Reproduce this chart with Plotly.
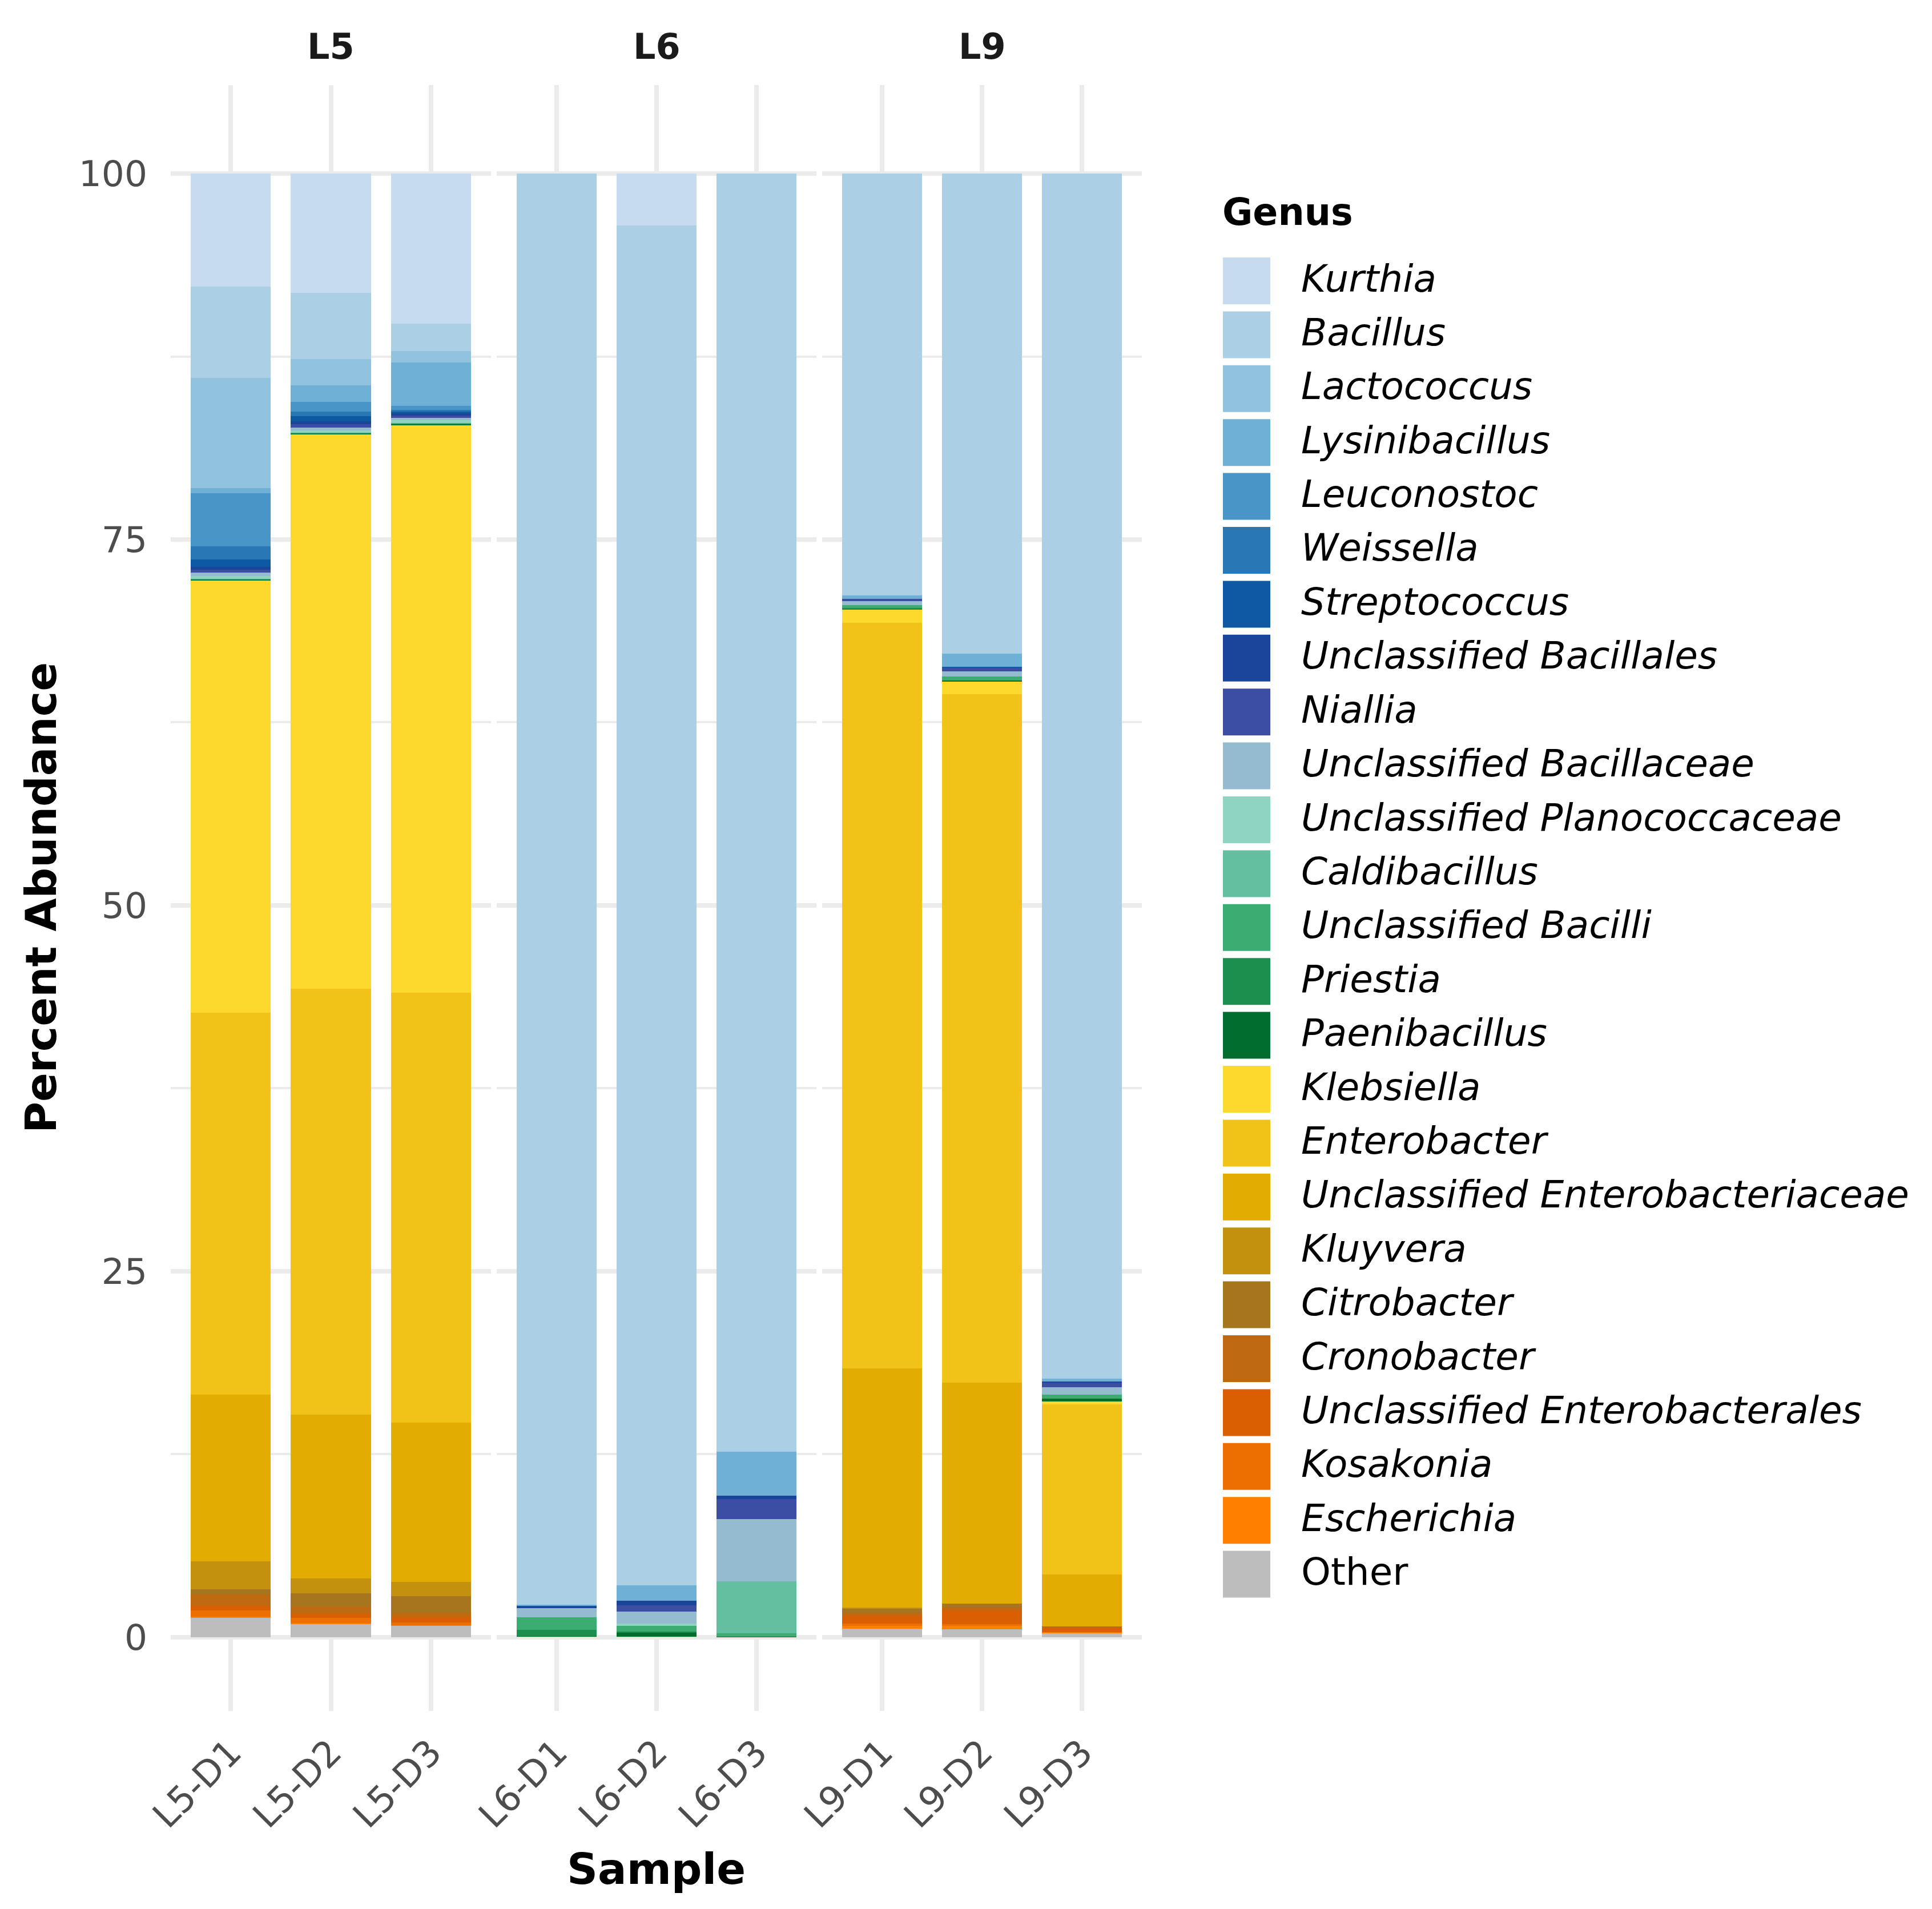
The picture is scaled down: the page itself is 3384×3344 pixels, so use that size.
import plotly.graph_objects as go

# the page body keeps its default 8px margin, so the figure is sized to fit
# inside the 3384x3344 window without scrollbars; positions below are window px
PAGE_OFFSET = 8
W, H = 3384 - 2 * PAGE_OFFSET - 8, 3344 - 2 * PAGE_OFFSET - 8

GENERA = [
    "Kurthia", "Bacillus", "Lactococcus", "Lysinibacillus", "Leuconostoc",
    "Weissella", "Streptococcus", "Unclassified Bacillales", "Niallia",
    "Unclassified Bacillaceae", "Unclassified Planococcaceae", "Caldibacillus",
    "Unclassified Bacilli", "Priestia", "Paenibacillus", "Klebsiella",
    "Enterobacter", "Unclassified Enterobacteriaceae", "Kluyvera", "Citrobacter",
    "Cronobacter", "Unclassified Enterobacterales", "Kosakonia", "Escherichia",
    "Other",
]

COLORS = [
    "#c6dbef", "#abd0e6", "#91c3de", "#6fb0d7", "#4a95c7",
    "#2a77b6", "#0f59a3", "#1a4599", "#3b4ea3",
    "#95bbd0", "#8fd3c3", "#63bfa0",
    "#3cac73", "#1c8e4e", "#016e30", "#fdd92e",
    "#f1c318", "#e2ac00", "#c4910f", "#a5761e",
    "#bf6911", "#d95f02", "#ec6f00", "#ff7f00",
    "#bdbdbd",
]

GROUPS = ["L5", "L6", "L9"]
SAMPLES = {
    "L5": ["L5-D1", "L5-D2", "L5-D3"],
    "L6": ["L6-D1", "L6-D2", "L6-D3"],
    "L9": ["L9-D1", "L9-D2", "L9-D3"],
}

# percent abundance per sample, in GENERA order (top of stack first)
L5_D1 = [7.72, 6.25, 7.53, 0.34, 3.64, 0.88, 0.52, 0.19, 0.19, 0.25, 0.17, 0.00, 0.04,
         0.04, 0.02, 29.55, 26.09, 11.40, 1.91, 0.36, 0.79, 0.29, 0.46, 0.04, 1.33]
L5_D2 = [8.15, 4.54, 1.78, 1.13, 0.67, 0.31, 0.36, 0.17, 0.25, 0.19, 0.15, 0.00, 0.04,
         0.03, 0.03, 37.91, 29.10, 11.20, 1.02, 0.90, 0.47, 0.31, 0.34, 0.04, 0.91]
L5_D3 = [10.26, 1.88, 0.75, 2.97, 0.27, 0.13, 0.12, 0.15, 0.17, 0.15, 0.19, 0.00, 0.05,
         0.03, 0.05, 38.79, 29.40, 10.87, 0.98, 1.13, 0.31, 0.35, 0.18, 0.05, 0.77]
L6_D1 = [0.00, 97.78, 0.00, 0.08, 0.00, 0.00, 0.02, 0.14, 0.00, 0.63, 0.00, 0.00, 0.86,
         0.43, 0.02, 0.04, 0.00, 0.00, 0.00, 0.00, 0.00, 0.00, 0.00, 0.00, 0.00]
L6_D2 = [3.55, 92.93, 0.00, 1.03, 0.00, 0.00, 0.00, 0.31, 0.43, 0.82, 0.16, 0.00, 0.39,
         0.08, 0.26, 0.04, 0.00, 0.00, 0.00, 0.00, 0.00, 0.00, 0.00, 0.00, 0.00]
L6_D3 = [0.00, 87.35, 0.00, 2.98, 0.00, 0.00, 0.00, 0.23, 1.37, 4.26, 0.00, 3.55, 0.22,
         0.00, 0.04, 0.00, 0.00, 0.00, 0.00, 0.00, 0.00, 0.00, 0.00, 0.00, 0.00]
L9_D1 = [0.00, 28.84, 0.00, 0.20, 0.00, 0.00, 0.00, 0.00, 0.19, 0.27, 0.00, 0.00, 0.19,
         0.12, 0.00, 0.90, 50.94, 16.32, 0.07, 0.30, 0.18, 0.55, 0.16, 0.22, 0.55]
L9_D2 = [0.00, 32.82, 0.00, 0.90, 0.00, 0.00, 0.03, 0.00, 0.27, 0.35, 0.00, 0.00, 0.27,
         0.00, 0.08, 0.86, 47.05, 15.08, 0.00, 0.25, 0.22, 0.95, 0.12, 0.24, 0.51]
L9_D3 = [0.00, 82.34, 0.00, 0.21, 0.00, 0.00, 0.00, 0.04, 0.36, 0.49, 0.00, 0.00, 0.27,
         0.00, 0.18, 0.22, 11.60, 3.58, 0.00, 0.00, 0.09, 0.27, 0.00, 0.07, 0.28]

ABUNDANCE = {
    "L5-D1": L5_D1, "L5-D2": L5_D2, "L5-D3": L5_D3,
    "L6-D1": L6_D1, "L6-D2": L6_D2, "L6-D3": L6_D3,
    "L9-D1": L9_D1, "L9-D2": L9_D2, "L9-D3": L9_D3,
}

Y_TICKS = [0, 25, 50, 75, 100]

FONT = "DejaVu Sans"
TICK_GRAY = "#4d4d4d"
GRID = "#ebebeb"


def px_x(v):
    return (v - PAGE_OFFSET) / W


def px_y(v):
    return 1 - (v - PAGE_OFFSET) / H


# panel geometry in window pixels
PANELS_X = [(299, 860), (870, 1430), (1440, 2000)]
PANEL_TOP, PANEL_BOTTOM = 149, 2997
Y_RANGE = [-5.05, 106.05]

fig = go.Figure()

for p, group in enumerate(GROUPS):
    suffix = "" if p == 0 else str(p + 1)
    samples = SAMPLES[group]
    # bottom of stack first
    for gi in reversed(range(len(GENERA))):
        fig.add_trace(
            go.Bar(
                x=samples,
                y=[ABUNDANCE[s][gi] for s in samples],
                name=GENERA[gi],
                marker={"color": COLORS[gi], "line": {"width": 0}},
                showlegend=False,
                xaxis="x" + suffix,
                yaxis="y" + suffix,
            )
        )

layout = {
    "width": W,
    "height": H,
    "autosize": False,
    "margin": {"l": 0, "r": 0, "t": 0, "b": 0, "pad": 0},
    "paper_bgcolor": "white",
    "plot_bgcolor": "white",
    "barmode": "stack",
    "bargap": 0.2,
    "font": {"family": FONT, "size": 63, "color": TICK_GRAY},
    "showlegend": False,
}

for p, group in enumerate(GROUPS):
    suffix = "" if p == 0 else str(p + 1)
    x0, x1 = PANELS_X[p]
    layout["xaxis" + suffix] = {
        "domain": [px_x(x0), px_x(x1)],
        "anchor": "y" + suffix,
        "range": [-0.6, 2.6],
        "type": "category",
        "automargin": False,
        "showgrid": True,
        "gridcolor": GRID,
        "gridwidth": 8,
        "zeroline": False,
        "showline": False,
        "ticks": "",
        "tickangle": -45,
        "ticklabelstandoff": 22,
        "tickfont": {"family": FONT, "size": 63, "color": TICK_GRAY},
        "fixedrange": True,
    }
    layout["yaxis" + suffix] = {
        "domain": [px_y(PANEL_BOTTOM), px_y(PANEL_TOP)],
        "anchor": "x" + suffix,
        "range": Y_RANGE,
        "tickvals": Y_TICKS,
        "automargin": False,
        "showticklabels": p == 0,
        "showgrid": True,
        "gridcolor": GRID,
        "gridwidth": 8,
        "minor": {"dtick": 12.5, "tick0": 0, "showgrid": True, "gridcolor": GRID, "gridwidth": 4},
        "zeroline": False,
        "showline": False,
        "ticks": "",
        "ticklabelstandoff": 40,
        "tickfont": {"family": FONT, "size": 63, "color": TICK_GRAY},
        "fixedrange": True,
    }
    if p > 0:
        layout["yaxis" + suffix]["matches"] = "y"

fig.update_layout(layout)

annotations = []
# facet strip labels
for p, group in enumerate(GROUPS):
    suffix = "" if p == 0 else str(p + 1)
    annotations.append(dict(
        text=f"<b>{group}</b>", x=0.5, xref=f"x{suffix} domain", y=px_y(82), yref="paper",
        xanchor="center", yanchor="middle", showarrow=False,
        font={"family": FONT, "size": 62, "color": "#1a1a1a"},
    ))

# axis titles
annotations.append(dict(
    text="<b>Sample</b>", x=px_x((PANELS_X[0][0] + PANELS_X[-1][1]) / 2), xref="paper",
    y=px_y(3274), yref="paper", xanchor="center", yanchor="middle", showarrow=False,
    font={"family": FONT, "size": 75, "color": "black"},
))
annotations.append(dict(
    text="<b>Percent Abundance</b>", x=px_x(72), xref="paper",
    y=px_y((PANEL_TOP + PANEL_BOTTOM) / 2), yref="paper", xanchor="center", yanchor="middle",
    textangle=-90, showarrow=False,
    font={"family": FONT, "size": 75, "color": "black"},
))

# legend built by hand so the keys match the reference size
LEG_KEY_X0, LEG_KEY_X1 = 2142, 2225
LEG_TEXT_X = 2277
LEG_TOP = 451
LEG_STEP = 94.4
LEG_KEY_H = 82

annotations.append(dict(
    text="<b>Genus</b>", x=px_x(2139), xref="paper", y=px_y(372), yref="paper",
    xanchor="left", yanchor="middle", showarrow=False,
    font={"family": FONT, "size": 65, "color": "black"},
))

shapes = []
for i, (genus, color) in enumerate(zip(GENERA, COLORS)):
    top = LEG_TOP + i * LEG_STEP
    shapes.append(dict(
        type="rect", xref="paper", yref="paper",
        x0=px_x(LEG_KEY_X0), x1=px_x(LEG_KEY_X1),
        y0=px_y(top + LEG_KEY_H), y1=px_y(top),
        fillcolor=color, line={"width": 0},
    ))
    label = genus if genus == "Other" else f"<i>{genus}</i>"
    annotations.append(dict(
        text=label, x=px_x(LEG_TEXT_X), xref="paper", y=px_y(top + LEG_KEY_H / 2 - 4), yref="paper",
        xanchor="left", yanchor="middle", showarrow=False,
        font={"family": FONT, "size": 66, "color": "black"},
    ))

fig.update_layout(annotations=annotations, shapes=shapes)

fig.write_html("out.html")
